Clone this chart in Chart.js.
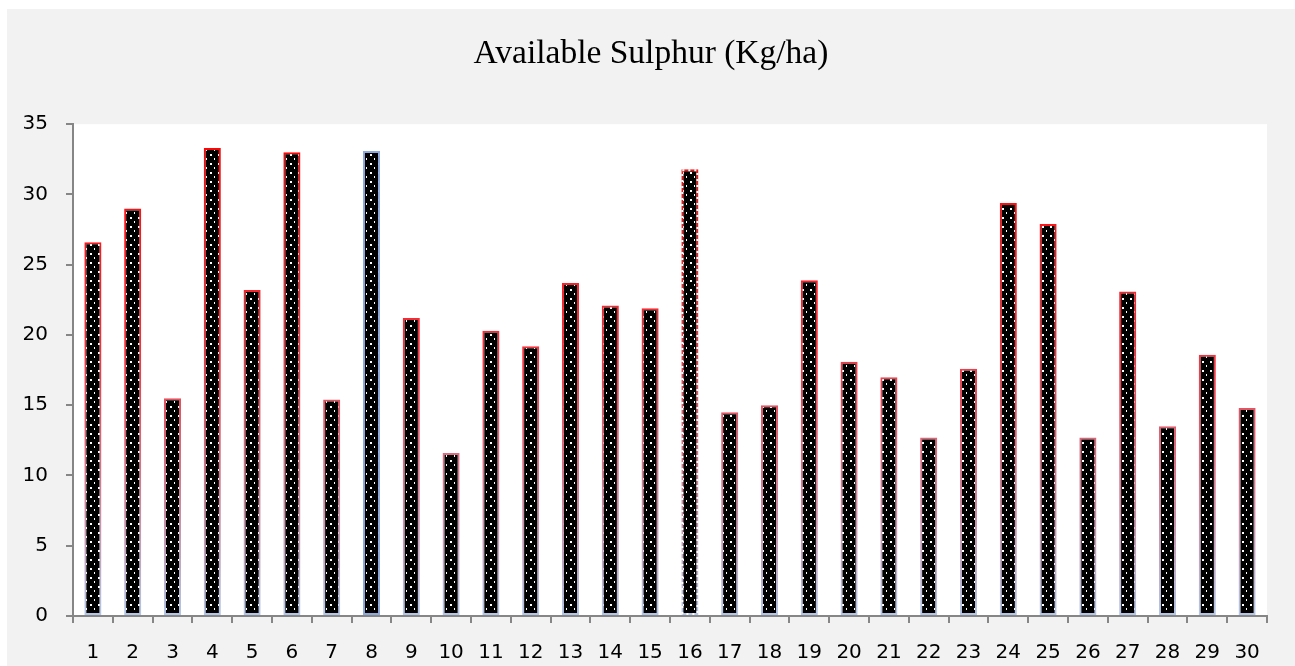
<!DOCTYPE html>
<html>
<head>
<meta charset="utf-8">
<script src="https://cdn.jsdelivr.net/npm/chart.js@4"></script>
<style>
  html, body { margin: 0; padding: 0; background: #ffffff; }
  #box { position: absolute; left: 7px; top: 9px; width: 1288px; height: 657px; background: #f2f2f2; }
</style>
</head>
<body>
<div id="box"><canvas id="chart"></canvas></div>
<script>
// Chart data
const categories = ["1","2","3","4","5","6","7","8","9","10","11","12","13","14","15",
  "16","17","18","19","20","21","22","23","24","25","26","27","28","29","30"];
const sulphur = [26.6, 29.0, 15.5, 33.3, 23.2, 33.0, 15.4, 33.1, 21.2, 11.6,
  20.3, 19.2, 23.7, 22.1, 21.9, 31.8, 14.5, 15.0, 23.9, 18.1,
  17.0, 12.7, 17.6, 29.4, 27.9, 12.7, 23.1, 13.5, 18.6, 14.8];
const yTicks = [0, 5, 10, 15, 20, 25, 30, 35];
const titleText = "Available Sulphur (Kg/ha)";
const blueBar = 7;    // bar 8 has a blue outline
const dashedBar = 15; // bar 16 has a dashed outline

// black fill with small white dots
function makePattern() {
  const c = document.createElement("canvas");
  c.width = 8;
  c.height = 9;
  const g = c.getContext("2d");
  g.fillStyle = "#000";
  g.fillRect(0, 0, 8, 9);
  g.fillStyle = "#fff";
  g.fillRect(3, 1, 2, 2);
  g.fillRect(7, 5, 1, 2);
  return g.createPattern(c, "repeat");
}

// white plot area
const plotBg = {
  id: "plotBg",
  beforeDraw(chart) {
    const a = chart.chartArea;
    const ctx = chart.ctx;
    ctx.save();
    ctx.fillStyle = "#ffffff";
    ctx.fillRect(a.left, a.top, a.right - a.left, a.bottom - a.top);
    ctx.restore();
  }
};

// break the outline of one bar into dashes
const dashOutline = {
  id: "dashOutline",
  afterDatasetsDraw(chart) {
    const bar = chart.getDatasetMeta(0).data[dashedBar];
    if (!bar) return;
    const p = bar.getProps(["x", "y", "width", "base"], true);
    const ctx = chart.ctx;
    ctx.save();
    ctx.strokeStyle = "#ffffff";
    ctx.lineWidth = 2;
    ctx.setLineDash([2, 4]);
    ctx.strokeRect(p.x - p.width / 2 + 1, p.y + 1, p.width - 2, p.base - p.y - 2);
    ctx.restore();
  }
};

const tickFont = { family: "DejaVu Sans", size: 20 };

const ctx = document.getElementById("chart").getContext("2d");
const dots = makePattern();

new Chart(ctx, {
  type: "bar",
  data: {
    labels: categories,
    datasets: [{
      data: sulphur,
      backgroundColor: dots,
      borderColor: (c) => {
        const chart = c.chart;
        const a = chart.chartArea;
        if (!a) return "#ff0000";
        if (c.dataIndex === blueBar) return "#8eaadb";
        const grad = chart.ctx.createLinearGradient(0, a.top, 0, a.bottom);
        grad.addColorStop(0, "#ff0000");
        grad.addColorStop(0.45, "#f4303a");
        grad.addColorStop(1, "#b4c7e7");
        return grad;
      },
      borderWidth: 2,
      borderSkipped: false,
      barPercentage: 0.43,
      categoryPercentage: 1.0
    }]
  },
  options: {
    responsive: true,
    maintainAspectRatio: false,
    animation: false,
    layout: { padding: 0 },
    plugins: {
      legend: { display: false },
      tooltip: { enabled: false },
      title: {
        display: true,
        text: titleText,
        color: "#000",
        font: { family: "Liberation Serif", size: 33.5, weight: "normal" },
        padding: { top: 25, bottom: 50 }
      }
    },
    scales: {
      x: {
        grid: { display: true, drawOnChartArea: false, offset: true, color: "#868686", tickLength: 7, lineWidth: 2 },
        border: { display: true, color: "#868686", width: 2 },
        ticks: { color: "#000", font: tickFont, padding: 18, maxRotation: 0, autoSkip: false },
        afterFit: (s) => { s.height = 50; }
      },
      y: {
        min: 0,
        max: 35,
        afterBuildTicks: (s) => { s.ticks = yTicks.map(v => ({ value: v })); },
        grid: { display: true, drawOnChartArea: false, color: "#868686", tickLength: 7, lineWidth: 2 },
        border: { display: true, color: "#868686", width: 2 },
        ticks: { color: "#000", font: tickFont, padding: 18 },
        afterFit: (s) => { s.width = 66; }
      },
      // empty right margin so the title stays centred on the whole box
      gap: {
        position: "right",
        display: true,
        min: 0,
        max: 1,
        grid: { display: false },
        border: { display: false },
        ticks: { display: false },
        afterFit: (s) => { s.width = 28; }
      }
    }
  },
  plugins: [plotBg, dashOutline]
});
</script>
</body>
</html>
